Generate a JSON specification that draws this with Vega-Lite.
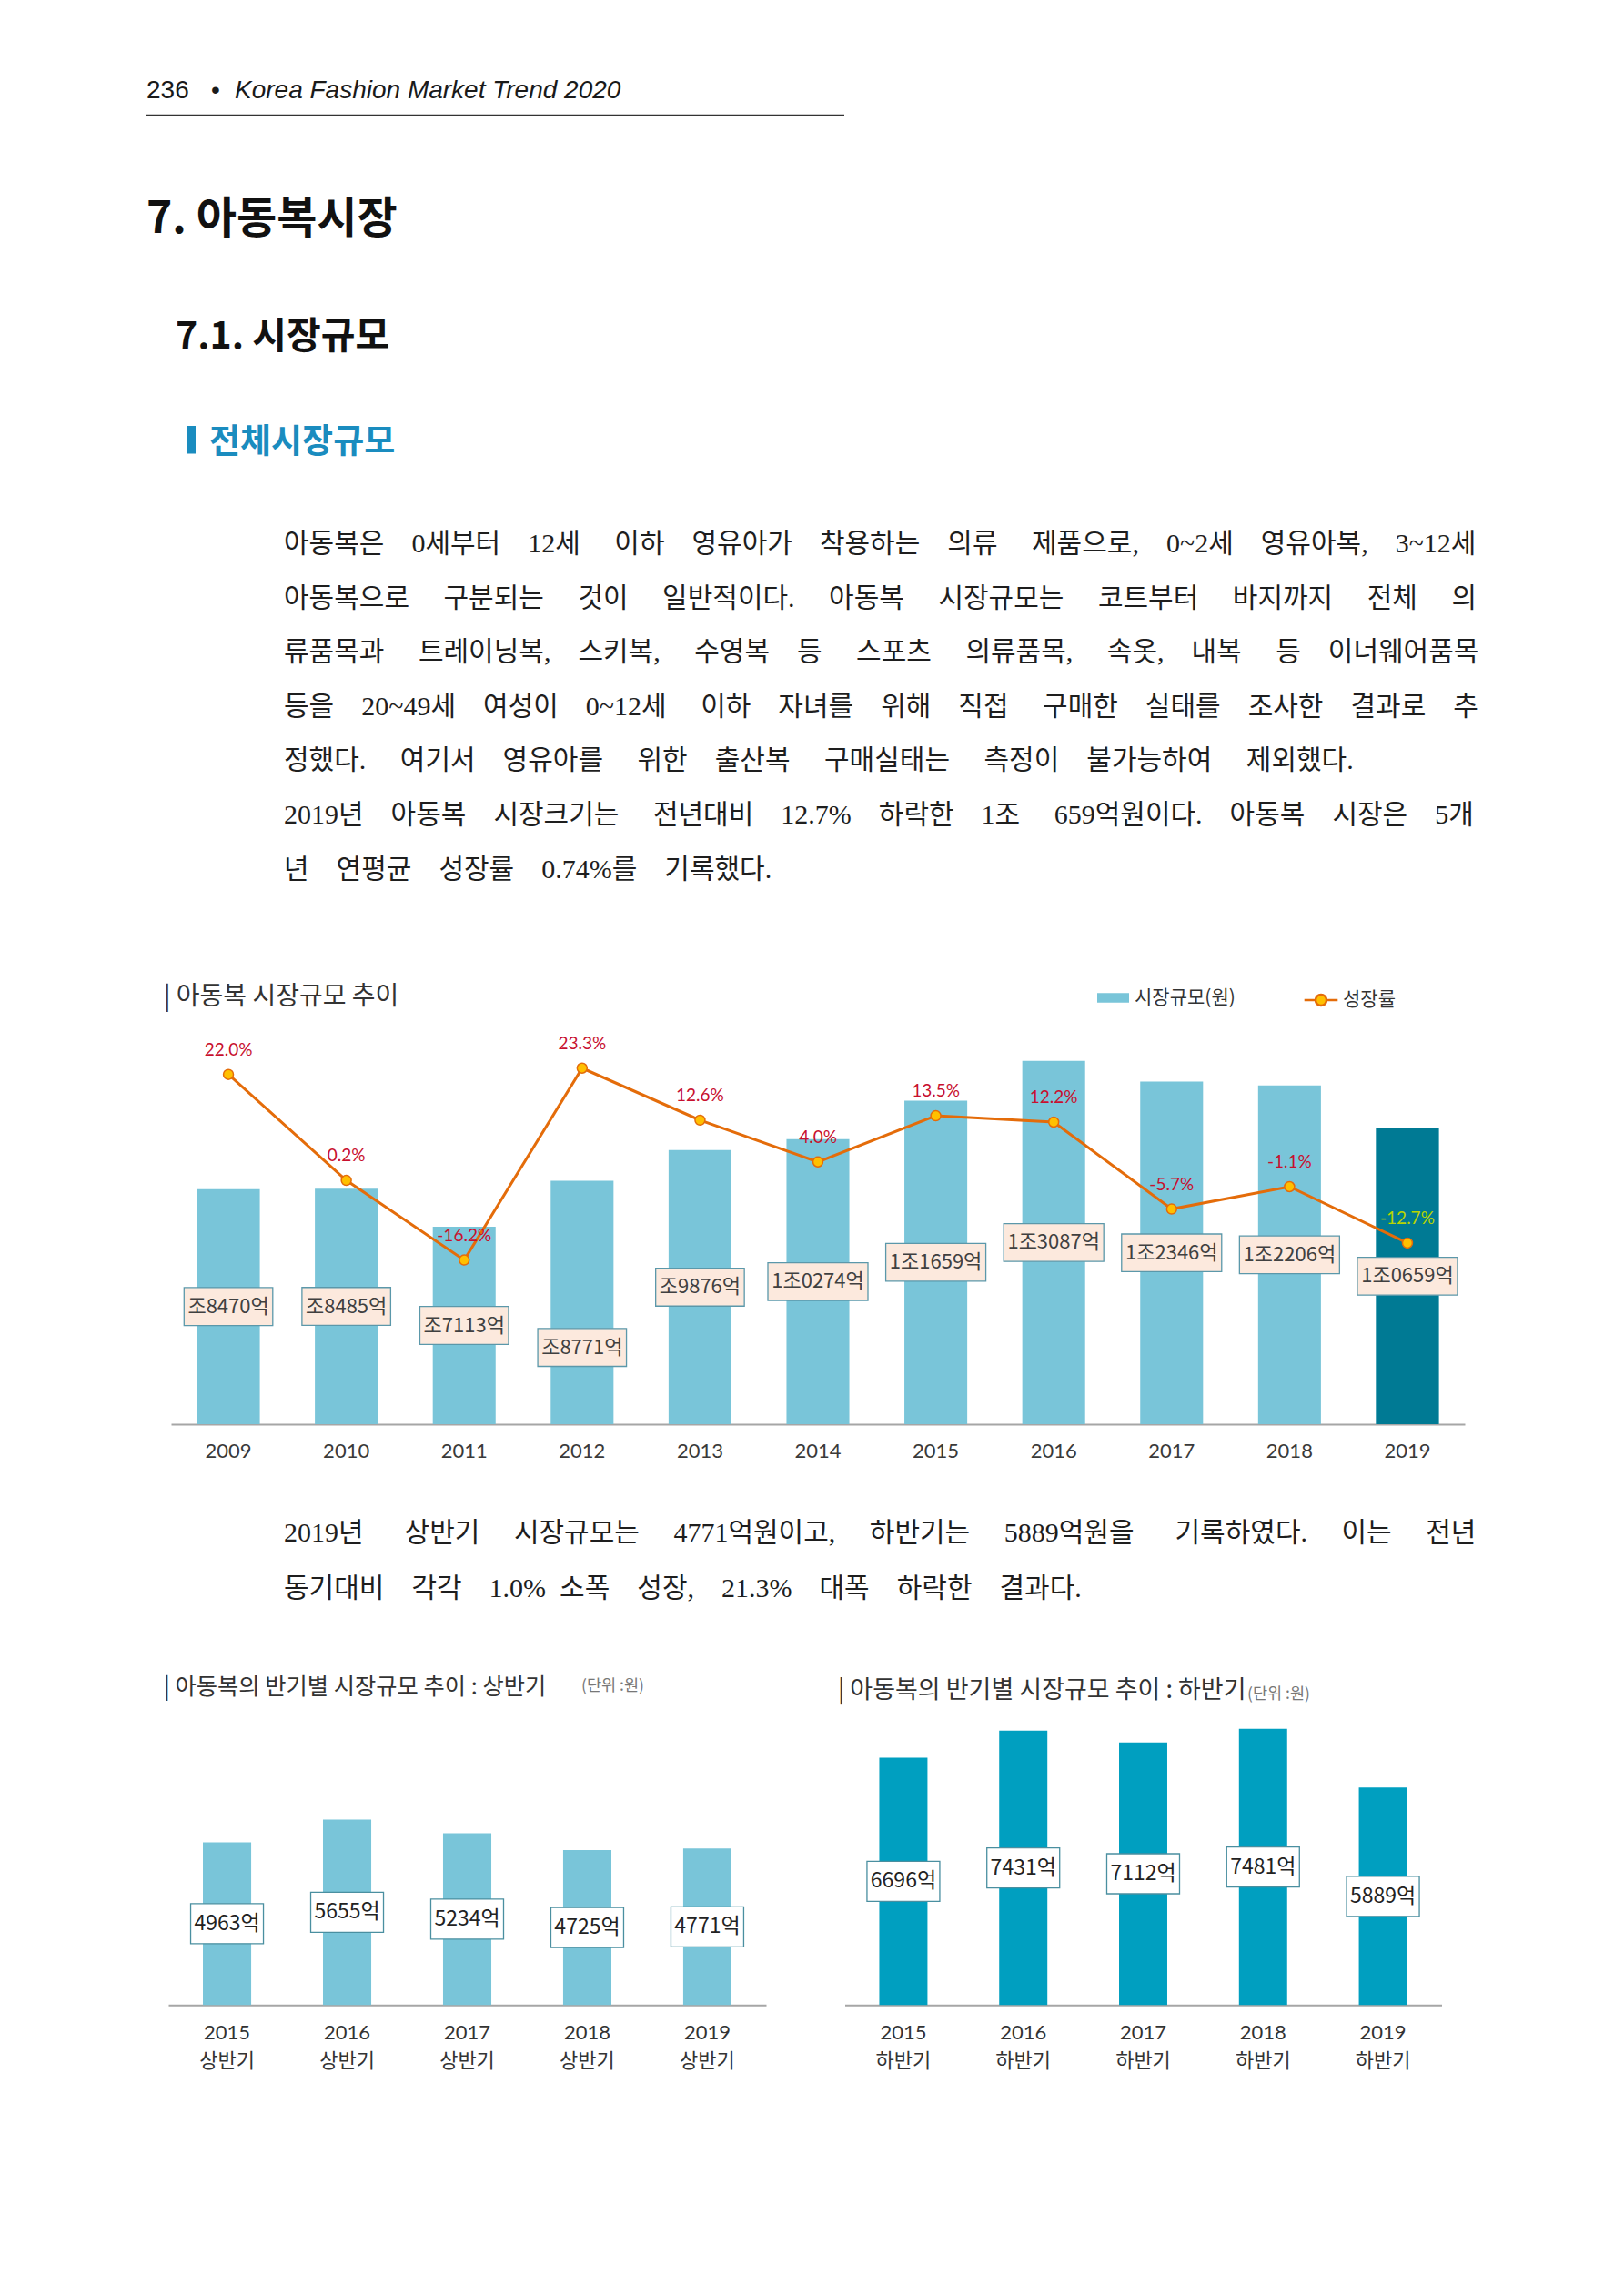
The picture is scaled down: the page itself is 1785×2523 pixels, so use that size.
{
  "$schema": "https://vega.github.io/schema/vega-lite/v6.json",
  "width": 1785,
  "height": 2523,
  "autosize": "none",
  "padding": 0,
  "background": "#ffffff",
  "config": {"view": {"stroke": null}, "font": "Noto Sans CJK KR"},
  "data": {"values": [{}]},
  "datasets": {
    "market": [
      {"year": "2009", "value": 8470, "growth": 22.0},
      {"year": "2010", "value": 8485, "growth": 0.2},
      {"year": "2011", "value": 7113, "growth": -16.2},
      {"year": "2012", "value": 8771, "growth": 23.3},
      {"year": "2013", "value": 9876, "growth": 12.6},
      {"year": "2014", "value": 10274, "growth": 4.0},
      {"year": "2015", "value": 11659, "growth": 13.5},
      {"year": "2016", "value": 13087, "growth": 12.2},
      {"year": "2017", "value": 12346, "growth": -5.7},
      {"year": "2018", "value": 12206, "growth": -1.1},
      {"year": "2019", "value": 10659, "growth": -12.7}
    ],
    "firstHalf": [
      {"year": "2015", "value": 4963},
      {"year": "2016", "value": 5655},
      {"year": "2017", "value": 5234},
      {"year": "2018", "value": 4725},
      {"year": "2019", "value": 4771}
    ],
    "secondHalf": [
      {"year": "2015", "value": 6696},
      {"year": "2016", "value": 7431},
      {"year": "2017", "value": 7112},
      {"year": "2018", "value": 7481},
      {"year": "2019", "value": 5889}
    ],
    "intro": [
      {"line": 1, "text": "아동복은\u20030세부터\u200312세\u2003 이하\u2003영유아가\u2003착용하는\u2003의류\u2003 제품으로,\u20030~2세\u2003영유아복,\u20033~12세"},
      {"line": 2, "text": "아동복으로\u2003 구분되는\u2003 것이\u2003 일반적이다.\u2003 아동복\u2003 시장규모는\u2003 코트부터\u2003 바지까지\u2003 전체\u2003 의"},
      {"line": 3, "text": "류품목과\u2003 트레이닝복,\u2003스키복,\u2003 수영복\u2003등\u2003 스포츠\u2003 의류품목,\u2003 속옷,\u2003내복\u2003 등\u2003이너웨어품목"},
      {"line": 4, "text": "등을\u200320~49세\u2003여성이\u20030~12세\u2003 이하\u2003자녀를\u2003위해\u2003직접\u2003 구매한\u2003실태를\u2003조사한\u2003결과로\u2003추"},
      {"line": 5, "text": "정했다.\u2003 여기서\u2003영유아를\u2003 위한\u2003출산복\u2003 구매실태는\u2003 측정이\u2003불가능하여\u2003 제외했다."},
      {"line": 6, "text": "2019년\u2003아동복\u2003시장크기는\u2003 전년대비\u200312.7%\u2003하락한\u20031조\u2003 659억원이다.\u2003아동복\u2003시장은\u20035개"},
      {"line": 7, "text": "년\u2003연평균\u2003성장률\u20030.74%를\u2003기록했다."}
    ],
    "halfNote": [
      {"line": 1, "text": "2019년\u2003\u2002상반기\u2003 시장규모는\u2003 4771억원이고,\u2003 하반기는\u2003 5889억원을\u2003\u2002기록하였다.\u2003 이는\u2003 전년"},
      {"line": 2, "text": "동기대비\u2003각각\u20031.0%\u2002소폭\u2003성장,\u200321.3%\u2003대폭\u2003하락한\u2003결과다."}
    ]
  },
  "layer": [
    {"mark": {"type": "text", "text": "236", "x": 161, "y": 108, "align": "left", "baseline": "alphabetic", "font": "Liberation Sans", "fontSize": 28, "fill": "#1a1a1a"}},
    {"mark": {"type": "text", "text": "•", "x": 237, "y": 108, "align": "center", "baseline": "alphabetic", "font": "Liberation Sans", "fontSize": 28, "fill": "#1a1a1a"}},
    {"mark": {"type": "text", "text": "Korea Fashion Market Trend 2020", "x": 258, "y": 108, "align": "left", "baseline": "alphabetic", "font": "Liberation Sans", "fontStyle": "italic", "fontSize": 28, "fill": "#1a1a1a"}},
    {"mark": {"type": "rect", "x": 161, "x2": 928, "y": 125.7, "y2": 127.7, "fill": "#333333"}},
    {"mark": {"type": "text", "text": "7. 아동복시장", "x": 161, "y": 256, "align": "left", "baseline": "alphabetic", "fontSize": 48, "fontWeight": "bold", "fill": "#111111"}},
    {"mark": {"type": "text", "text": "7.1. 시장규모", "x": 193, "y": 383, "align": "left", "baseline": "alphabetic", "fontSize": 41, "fontWeight": "bold", "fill": "#111111"}},
    {"mark": {"type": "rect", "x": 206, "x2": 215, "y": 468, "y2": 498.5, "fill": "#1a8cbf"}},
    {"mark": {"type": "text", "text": "전체시장규모", "x": 230, "y": 498, "align": "left", "baseline": "alphabetic", "fontSize": 37, "fontWeight": "bold", "fill": "#1a8cbf"}},
    {
      "data": {"name": "intro"},
      "mark": {"type": "text", "x": 312, "align": "left", "baseline": "alphabetic", "font": "Liberation Serif, Noto Sans CJK KR", "fontSize": 30, "fill": "#1e1e1e"},
      "encoding": {
        "y": {"field": "line", "type": "quantitative", "scale": {"domain": [1, 7], "range": [607, 964.6], "nice": false, "zero": false}, "axis": null},
        "text": {"field": "text"}
      }
    },
    {"mark": {"type": "text", "text": "| 아동복 시장규모 추이", "x": 180, "y": 1104, "align": "left", "baseline": "alphabetic", "fontSize": 28, "fill": "#333333"}},
    {
      "data": {"name": "market"},
      "encoding": {
        "x": {
          "field": "year", "type": "ordinal",
          "scale": {"type": "band", "range": [188, 1610], "paddingInner": 0.467, "paddingOuter": 0.22},
          "axis": {"orient": "bottom", "offset": -958, "title": null, "ticks": false, "grid": false, "domainColor": "#a6a6a6", "domainWidth": 2, "labelAngle": 0, "labelOverlap": false, "labelFont": "Lato", "labelFontSize": 22, "labelColor": "#3a3a3a", "labelPadding": 19}
        }
      },
      "layer": [
        {
          "mark": {"type": "bar"},
          "encoding": {
            "y": {"field": "value", "type": "quantitative", "scale": {"domain": [0, 14000], "range": [1565, 1138], "nice": false, "zero": true}, "axis": null},
            "fill": {
              "datum": "시장규모(원)", "type": "nominal",
              "scale": {"range": ["#79c5d9"]},
              "legend": {"orient": "none", "legendX": 1206, "legendY": 1079, "title": null, "padding": 0, "symbolType": "M-1,-0.3L1,-0.3L1,0.3L-1,0.3Z", "symbolSize": 1225, "symbolStrokeWidth": 0, "labelFont": "Noto Sans CJK KR", "labelFontSize": 21, "labelColor": "#333333", "labelOffset": 6}
            }
          }
        },
        {
          "transform": [{"filter": "datum.year == '2019'"}],
          "mark": {"type": "bar", "fill": "#007a94"},
          "encoding": {
            "y": {"field": "value", "type": "quantitative", "scale": {"domain": [0, 14000], "range": [1565, 1138], "nice": false, "zero": true}, "axis": null}
          }
        },
        {
          "transform": [{"filter": "datum.value < 10000 && datum.year != '2012'"}],
          "encoding": {
            "y": {"field": "value", "type": "quantitative", "scale": {"domain": [0, 28000], "range": [1565, 1138], "nice": false, "zero": true}, "axis": null}
          },
          "layer": [
            {"mark": {"type": "point", "shape": "M-1,-0.428L1,-0.428L1,0.428L-1,0.428Z", "size": 9506, "filled": true, "fill": "#fce9dd", "stroke": "#5b98aa", "strokeWidth": 1.3, "opacity": 1}},
            {"mark": {"type": "text", "font": "Liberation Sans Narrow, Noto Sans CJK KR", "fontSize": 22, "fill": "#404040", "text": {"expr": "(datum.value >= 10000 ? '1조' + format(datum.value - 10000, '04d') : '조' + format(datum.value, 'd')) + '억'"}}}
          ]
        },
        {
          "transform": [{"filter": "datum.year == '2012'"}],
          "encoding": {
            "y": {"field": "value", "type": "quantitative", "scale": {"domain": [0, 44400], "range": [1565, 1138], "nice": false, "zero": true}, "axis": null}
          },
          "layer": [
            {"mark": {"type": "point", "shape": "M-1,-0.428L1,-0.428L1,0.428L-1,0.428Z", "size": 9506, "filled": true, "fill": "#fce9dd", "stroke": "#5b98aa", "strokeWidth": 1.3, "opacity": 1}},
            {"mark": {"type": "text", "font": "Liberation Sans Narrow, Noto Sans CJK KR", "fontSize": 22, "fill": "#404040", "text": {"expr": "(datum.value >= 10000 ? '1조' + format(datum.value - 10000, '04d') : '조' + format(datum.value, 'd')) + '억'"}}}
          ]
        },
        {
          "transform": [{"filter": "datum.value >= 10000"}],
          "encoding": {
            "y": {"field": "value", "type": "quantitative", "scale": {"domain": [0, 28000], "range": [1565, 1138], "nice": false, "zero": true}, "axis": null}
          },
          "layer": [
            {"mark": {"type": "point", "shape": "M-1,-0.377L1,-0.377L1,0.377L-1,0.377Z", "size": 12100, "filled": true, "fill": "#fce9dd", "stroke": "#5b98aa", "strokeWidth": 1.3, "opacity": 1}},
            {"mark": {"type": "text", "font": "Liberation Sans Narrow, Noto Sans CJK KR", "fontSize": 22, "fill": "#404040", "text": {"expr": "(datum.value >= 10000 ? '1조' + format(datum.value - 10000, '04d') : '조' + format(datum.value, 'd')) + '억'"}}}
          ]
        },
        {
          "mark": {"type": "line", "strokeWidth": 3},
          "encoding": {
            "y": {"field": "growth", "type": "quantitative", "scale": {"domain": [-50, 30], "range": [1565, 1138], "nice": false, "zero": false}, "axis": null},
            "stroke": {
              "datum": "성장률", "type": "nominal",
              "scale": {"range": ["#e46c0a"]},
              "legend": {"orient": "none", "legendX": 1432, "legendY": 1079, "title": null, "padding": 0, "symbolType": "M-1,0L-0.33,0M0.33,0L1,0M0.33,0A0.33,0.33,0,1,1,-0.33,0A0.33,0.33,0,1,1,0.33,0Z", "symbolSize": 1340, "symbolStrokeWidth": 2.5, "symbolFillColor": "#ffc000", "labelFont": "Noto Sans CJK KR", "labelFontSize": 21, "labelColor": "#333333", "labelOffset": 4,
                "encode": {"symbols": {"update": {"fill": {"value": "#ffc000"}, "stroke": {"value": "#e46c0a"}, "strokeWidth": {"value": 2.5}}}}}
            }
          }
        },
        {
          "mark": {"type": "point", "filled": true, "size": 120, "fill": "#ffc000", "stroke": "#e46c0a", "strokeWidth": 1.5, "opacity": 1},
          "encoding": {
            "y": {"field": "growth", "type": "quantitative", "scale": {"domain": [-50, 30], "range": [1565, 1138], "nice": false, "zero": false}, "axis": null}
          }
        },
        {
          "mark": {"type": "text", "dy": -27, "font": "Lato", "fontSize": 19, "text": {"expr": "replace(format(datum.growth, '.1f'), '\u2212', '-') + '%'"}},
          "encoding": {
            "y": {"field": "growth", "type": "quantitative", "scale": {"domain": [-50, 30], "range": [1565, 1138], "nice": false, "zero": false}, "axis": null},
            "color": {"condition": {"test": "datum.year == '2019'", "value": "#b8d400"}, "value": "#c8102e"}
          }
        }
      ],
      "resolve": {"scale": {"y": "independent"}}
    },
    {
      "data": {"name": "halfNote"},
      "mark": {"type": "text", "x": 312, "align": "left", "baseline": "alphabetic", "font": "Liberation Serif, Noto Sans CJK KR", "fontSize": 30, "fill": "#1e1e1e"},
      "encoding": {
        "y": {"field": "line", "type": "quantitative", "scale": {"domain": [1, 2], "range": [1694, 1755], "nice": false, "zero": false}, "axis": null},
        "text": {"field": "text"}
      }
    },
    {"mark": {"type": "text", "text": "| 아동복의 반기별 시장규모 추이 : 상반기", "x": 180, "y": 1862, "align": "left", "baseline": "alphabetic", "fontSize": 25.3, "fill": "#333333"}},
    {"mark": {"type": "text", "text": "(단위 :원)", "x": 639, "y": 1857.7, "align": "left", "baseline": "alphabetic", "fontSize": 17.5, "fill": "#777777"}},
    {"mark": {"type": "text", "text": "| 아동복의 반기별 시장규모 추이 : 하반기", "x": 921, "y": 1866, "align": "left", "baseline": "alphabetic", "fontSize": 27, "fill": "#333333"}},
    {"mark": {"type": "text", "text": "(단위 :원)", "x": 1371, "y": 1866.7, "align": "left", "baseline": "alphabetic", "fontSize": 17.5, "fill": "#777777"}},
    {
      "data": {"name": "firstHalf"},
      "encoding": {
        "x": {
          "field": "year", "type": "ordinal",
          "scale": {"type": "band", "range": [185, 842], "paddingInner": 0.598, "paddingOuter": 0.288},
          "axis": {"orient": "bottom", "offset": -319.7, "title": null, "ticks": false, "grid": false, "domainColor": "#a6a6a6", "domainWidth": 2, "labelAngle": 0, "labelOverlap": false, "labelFont": "Lato, Noto Sans CJK KR", "labelFontSize": 22, "labelColor": "#333333", "labelPadding": 20, "labelLineHeight": 31.6, "labelExpr": "[datum.label, '상반기']"}
        }
      },
      "layer": [
        {
          "mark": {"type": "bar", "fill": "#79c5d9"},
          "encoding": {
            "y": {"field": "value", "type": "quantitative", "scale": {"domain": [0, 6000], "range": [2203.3, 1987], "nice": false, "zero": true}, "axis": null}
          }
        },
        {
          "encoding": {
            "y": {"field": "value", "type": "quantitative", "scale": {"domain": [0, 12000], "range": [2203.3, 1987], "nice": false, "zero": true}, "axis": null}
          },
          "layer": [
            {"mark": {"type": "point", "shape": "M-1,-0.55L1,-0.55L1,0.55L-1,0.55Z", "size": 6400, "filled": true, "fill": "#ffffff", "stroke": "#4a8fa0", "strokeWidth": 1.3, "opacity": 1}},
            {"mark": {"type": "text", "font": "Liberation Sans Narrow, Noto Sans CJK KR", "fontSize": 23, "fill": "#222222", "text": {"expr": "format(datum.value, 'd') + '억'"}}}
          ]
        }
      ],
      "resolve": {"scale": {"y": "independent"}}
    },
    {
      "data": {"name": "secondHalf"},
      "encoding": {
        "x": {
          "field": "year", "type": "ordinal",
          "scale": {"type": "band", "range": [928.5, 1584.5], "paddingInner": 0.598, "paddingOuter": 0.288},
          "axis": {"orient": "bottom", "offset": -319.7, "title": null, "ticks": false, "grid": false, "domainColor": "#a6a6a6", "domainWidth": 2, "labelAngle": 0, "labelOverlap": false, "labelFont": "Lato, Noto Sans CJK KR", "labelFontSize": 22, "labelColor": "#333333", "labelPadding": 20, "labelLineHeight": 31.6, "labelExpr": "[datum.label, '하반기']"}
        }
      },
      "layer": [
        {
          "mark": {"type": "bar", "fill": "#009fc0"},
          "encoding": {
            "y": {"field": "value", "type": "quantitative", "scale": {"domain": [0, 8000], "range": [2203.3, 1878.7], "nice": false, "zero": true}, "axis": null}
          }
        },
        {
          "encoding": {
            "y": {"field": "value", "type": "quantitative", "scale": {"domain": [0, 16000], "range": [2203.3, 1878.7], "nice": false, "zero": true}, "axis": null}
          },
          "layer": [
            {"mark": {"type": "point", "shape": "M-1,-0.55L1,-0.55L1,0.55L-1,0.55Z", "size": 6400, "filled": true, "fill": "#ffffff", "stroke": "#4a8fa0", "strokeWidth": 1.3, "opacity": 1}},
            {"mark": {"type": "text", "font": "Liberation Sans Narrow, Noto Sans CJK KR", "fontSize": 23, "fill": "#222222", "text": {"expr": "format(datum.value, 'd') + '억'"}}}
          ]
        }
      ],
      "resolve": {"scale": {"y": "independent"}}
    }
  ],
  "resolve": {"scale": {"x": "independent", "y": "independent"}}
}
